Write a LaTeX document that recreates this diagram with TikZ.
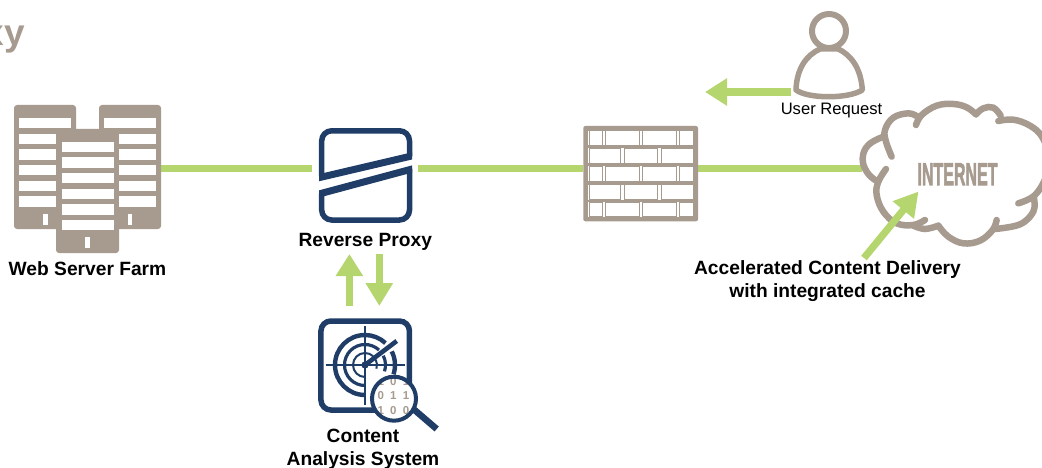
\documentclass[tikz,border=0pt]{standalone}
\usepackage{fontspec}
\setmainfont{Liberation Sans}
\newfontfamily\heavyfont[BoldFeatures={FakeBold=2.5}]{Liberation Sans}
\usetikzlibrary{arrows.meta}
\definecolor{tan}{HTML}{A79B90}
\definecolor{navy}{HTML}{1F3D67}
\definecolor{lime}{HTML}{B5D66E}
\newcommand{\digitrow}[1]{{\spaceskip=6.2pt\relax #1}}
\tikzset{
  x=1pt,y=-1pt,
  port/.style={inner sep=0pt,outer sep=0pt,minimum width=#1,minimum height=1pt},
  greenline/.style={draw=lime,line width=7pt},
  greenarrow/.style={draw=lime,line width=7.2pt,-{Triangle[length=#1,width=26pt,fill=lime]}},
  caption/.style={font=\bfseries\fontsize{19.2pt}{23pt}\selectfont,align=center,text=black,inner sep=0pt},
  iconbox/.style={draw=navy,line width=5.5pt,rounded corners=10pt},
  bar/.style={fill=white,draw=none},
  brick/.style={draw=tan,line width=1pt,fill=white},
  digits/.style={text=tan,font=\bfseries\fontsize{11.5pt}{12pt}\selectfont,inner sep=0pt},
}
\begin{document}
\begin{tikzpicture}
\useasboundingbox (0,0) rectangle (1042,468);
% connection points
\node[port=147pt] (farm) at (87.5,168.6) {};
\node[port=106pt] (proxy) at (365,168.6) {};
\node[port=115pt] (firewall) at (640.7,168.6) {};
\node[port=180pt] (cloud) at (952,168.6) {};
% title fragment
\node[anchor=base east,inner sep=0pt,text=tan,font=\bfseries\fontsize{37pt}{37pt}\selectfont] (title) at (25,46) {xy};
% links
\draw[greenline] (farm.east) -- (proxy.west);
\draw[greenline] (proxy.east) -- (firewall.west);
\draw[greenline] (firewall.east) -- (cloud.west);
% server farm
\fill[tan,rounded corners=3pt] (14,105) rectangle (76,229);
\fill[tan,rounded corners=3pt] (99,105) rectangle (161,229);
\fill[tan,rounded corners=3pt] (56,129) rectangle (119,253);
\fill[bar] (19.3,118) rectangle (71,128.3);
\fill[bar] (104,118) rectangle (155.5,128.3);
\foreach \y in {134,149.5,165,181,196.3}{
  \fill[bar] (19.3,\y) rectangle (56,\y+10.3);
  \fill[bar] (119,\y) rectangle (155.5,\y+10.3);
}
\foreach \y in {142,157.3,173,189,204.3,220}{
  \fill[bar] (61.5,\y) rectangle (113.5,\y+10.3);
}
\fill[bar] (43.3,214) rectangle (47.5,225);
\fill[bar] (127.5,214) rectangle (132,225);
\fill[bar] (85,237) rectangle (89.5,248);
\node[caption] (farmlabel) at (87.5,268.5) {Web Server Farm};
% reverse proxy icon
\draw[navy,line width=5.5pt,rounded corners=10pt]
  (321.7,176.5) -- (321.7,130.8) -- (409.5,130.8) -- (409.5,156.5);
\draw[navy,line width=5.5pt,rounded corners=10pt]
  (321.7,193.5) -- (321.7,220) -- (409.5,220) -- (409.5,169);
\begin{scope}
  \clip (319,120) rectangle (412.2,230);
  \draw[navy,line width=7pt] (310,179.8) -- (421,153.8);
  \draw[navy,line width=7pt] (310,196.4) -- (421,166.6);
\end{scope}
\node[caption] (proxylabel) at (365.3,241.5) {Reverse Proxy};
% arrows between proxy and analysis
\coordinate (upA) at (349.4,306);
\coordinate (upB) at (349.4,254);
\coordinate (downA) at (379.3,254);
\coordinate (downB) at (379.3,306);
\draw[greenarrow=22pt] (upA) -- (upB);
\draw[greenarrow=23pt] (downA) -- (downB);
% content analysis icon
\node[iconbox,minimum width=88.5pt,minimum height=89pt,inner sep=0pt] (cas) at (365.2,365.5) {};
\draw[navy,line width=1.6pt] (325.7,365) -- (405,365);
\draw[navy,line width=1.6pt] (365,326) -- (365,405);
\foreach \r/\w in {30/4.4pt,20.5/3.2pt,12/2pt}{
  \draw[navy,line width=\w] (365,365+\r) arc[start angle=90,end angle=313,radius=\r];
  \draw[navy,line width=\w] (365,365) ++(333:\r) arc[start angle=333,end angle=378,radius=\r];
}
\draw[navy,line width=4.6pt] (365,365) -- (396.7,341);
\fill[navy] (365,365) circle[radius=3.6];
\begin{scope}
  \path[clip] (394,398.7) circle[radius=22];
  \fill[white] (394,398.7) circle[radius=22];
  \node[digits] (d1) at (393.4,381.7) {\digitrow{1 0 1}};
  \node[digits] (d2) at (393.4,396) {\digitrow{0 1 1}};
  \node[digits] (d3) at (393.4,411) {\digitrow{1 0 0}};
\end{scope}
\draw[navy,line width=4pt] (394,398.7) circle[radius=22];
\draw[navy,line width=6.5pt] (414,409.5) -- (436.7,429);
\node[caption] (caslabel) at (363,449) {Content\\Analysis System};
% firewall
\fill[tan,rounded corners=2pt] (583.3,126) rectangle (698,221.3);
\fill[white] (588.3,130.7) rectangle (693.3,216.7);
\foreach \a/\b in {145.3/148.7,163.3/166.7,181.3/185,199.7/202.7}{
  \fill[tan] (588.3,\a+0.2) rectangle (693.3,\b-0.4);
}
\foreach \a/\b in {130.7/145.3,166.7/181.3,202.7/216.7}{
  \foreach \l/\r in {589/602.3,605.7/639,642.3/676,679.7/693}{
    \draw[brick] (\l,\a) rectangle (\r,\b);
  }
}
\foreach \a/\b in {148.7/163.3,185/199.7}{
  \foreach \l/\r in {589/620.7,624/657.7,661/693}{
    \draw[brick] (\l,\a) rectangle (\r,\b);
  }
}
% user
\begin{scope}[shift={(785,5)},x=0.3333pt,y=-0.3333pt]
  \draw[tan,line width=5.5pt,line join=round,line cap=round]
    (33,255) .. controls (35,190) and (65,150) .. (105,132)
    -- (160,132) .. controls (198,150) and (228,190) .. (232,255)
    .. controls (190,282) and (70,282) .. (33,255);
  \fill[white] (132,78) circle[radius=51];
  \draw[tan,line width=6pt] (132,78) circle[radius=51];
\end{scope}
\node[port=1pt] (user) at (790.7,92) {};
\coordinate (userTip) at (705,92);
\draw[greenarrow=22pt] (user.center) -- (userTip);
\node[inner sep=0pt,font=\fontsize{16.6pt}{18pt}\selectfont,text=black] (userlabel) at (831.5,111) {User Request};
% cloud
\begin{scope}[shift={(850,95)},x=0.3333pt,y=-0.3333pt,tan,line width=6.5pt,line cap=round]
  \draw plot[smooth,tension=.65] coordinates {(125,185) (108,140) (105,105) (130,68) (175,55) (203,65)};
  \draw plot[smooth,tension=.65] coordinates {(198,90) (215,60) (260,32) (310,27) (350,37) (378,58)};
  \draw plot[smooth,tension=.7] coordinates {(378,58) (400,40) (430,38) (452,62)};
  \draw plot[smooth,tension=.65] coordinates {(445,78) (490,74) (540,92) (576,125) (595,180) (590,240) (555,300) (505,325)};
  \draw plot[smooth,tension=.65] coordinates {(552,310) (550,350) (510,388) (435,402)};
  \draw plot[smooth,tension=.65] coordinates {(440,375) (428,405) (390,437) (340,445) (295,425) (265,392)};
  \draw plot[smooth,tension=.65] coordinates {(265,392) (225,402) (190,392)};
  \draw plot[smooth,tension=.65] coordinates {(225,375) (190,390) (140,385) (100,350) (80,300) (85,260) (108,222)};
  \draw plot[smooth,tension=.7] coordinates {(75,255) (50,230) (38,190) (55,150) (100,125)};
\end{scope}
\node[inner sep=0pt,text=tan,font=\heavyfont\bfseries\fontsize{32pt}{32pt}\selectfont] (internet) at (957.5,174.2) {\scalebox{0.5}[1]{INTERNET}};
\coordinate (accA) at (864,258);
\coordinate (accB) at (918.5,191.5);
\draw[greenarrow=24pt] (accA) -- (accB);
\node[caption] (acclabel) at (827.5,281) {Accelerated Content Delivery\\with integrated cache};
\end{tikzpicture}
\end{document}
